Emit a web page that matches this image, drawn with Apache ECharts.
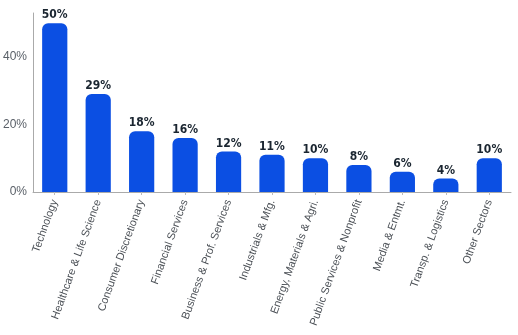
<!DOCTYPE html>
<html>
<head>
<meta charset="utf-8">
<script src="https://cdn.jsdelivr.net/npm/echarts@6/dist/echarts.min.js"></script>
<style>
  html, body { margin: 0; padding: 0; background: #fff; }
  #chart { width: 518px; height: 335px; }
</style>
</head>
<body>
<div id="chart"></div>
<script>
var sectors = ['Technology', 'Healthcare & Life Science', 'Consumer Discretionary', 'Financial Services',
  'Business & Prof. Services', 'Industrials & Mfg.', 'Energy, Materials & Agri.',
  'Public Services & Nonprofit', 'Media & Entmt.', 'Transp. & Logistics', 'Other Sectors']
var shares = [50, 29, 18, 16, 12, 11, 10, 8, 6, 4, 10]

var chart = echarts.init(document.getElementById('chart'))
var option = {
  backgroundColor: '#fff',
  animation: false,
  grid: { left: 33, right: 7, top: 13, bottom: 143, containLabel: false },
  xAxis: {
    type: 'category',
    data: sectors,
    axisLine: { lineStyle: { color: '#aaa', width: 1 } },
    axisTick: { show: true, alignWithLabel: true, length: 3, lineStyle: { color: '#bbb' } },
    axisLabel: {
      rotate: 70,
      interval: 0,
      color: '#4a4f55',
      fontFamily: 'Liberation Sans',
      fontSize: 11,
      margin: 8
    }
  },
  yAxis: {
    type: 'value',
    min: 0,
    max: 53,
    interval: 20,
    axisLine: { show: true, lineStyle: { color: '#aaa', width: 1 } },
    axisTick: { show: false },
    splitLine: { show: false },
    axisLabel: {
      showMaxLabel: false,
      formatter: '{value}%',
      color: '#5a6068',
      fontFamily: 'Liberation Sans',
      fontSize: 12,
      margin: 6
    }
  },
  series: [{
    type: 'bar',
    data: shares,
    barWidth: '58%',
    itemStyle: { color: '#0b4fe3', borderRadius: [6, 6, 0, 0] },
    label: {
      show: true,
      position: 'top',
      formatter: '{c}%',
      color: '#1a2530',
      fontFamily: 'DejaVu Sans Condensed',
      fontWeight: 'bold',
      fontSize: 12,
      distance: 2
    }
  }]
}
chart.setOption(option)
</script>
</body>
</html>
